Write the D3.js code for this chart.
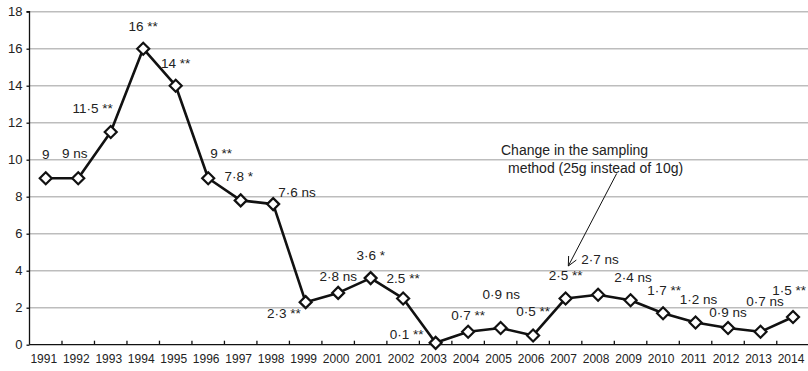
<!DOCTYPE html>
<html><head><meta charset="utf-8">
<script src="https://cdn.jsdelivr.net/npm/d3@7"></script>
<style>
html,body{margin:0;padding:0;background:#fff;overflow:hidden}
text{font-family:"Liberation Sans",Arial,Helvetica,sans-serif;fill:#222}
</style></head><body>
<svg id="c" width="808" height="371"></svg>
<script>
const years = ["1991","1992","1993","1994","1995","1996","1997","1998","1999","2000","2001","2002","2003","2004","2005","2006","2007","2008","2009","2010","2011","2012","2013","2014"];
const values = [9,9,11.5,16,14,9,7.8,7.6,2.3,2.8,3.6,2.5,0.1,0.7,0.9,0.5,2.5,2.7,2.4,1.7,1.2,0.9,0.7,1.5];
const labels = ["9","9 ns","11·5 **","16 **","14 **","9 **","7·8 *","7·6 ns","2·3 **","2·8 ns","3·6 *","2.5 **","0·1 **","0·7 **","0·9 ns","0·5 **","2·5 **","2·7 ns","2·4 ns","1·7 **","1·2 ns","0·9 ns","0·7 ns","1·5 **"];
const yTicks = [0,2,4,6,8,10,12,14,16,18];
const annotationLines = ["Change in the sampling","method (25g instead of 10g)"];

// label placement (layout config): [dx, dy, anchor]
const labelPlace = [
 [0,-19,"middle"],[-3.5,-20,"middle"],[-18,-19,"middle"],[0,-18,"middle"],[0,-18,"middle"],
 [2,-20,"start"],[-2,-19,"middle"],[5,-7,"start"],[-5,16,"end"],[0,-12,"middle"],
 [0,-18,"middle"],[0,-15,"middle"],[-12,-3.5,"end"],[0,-12,"middle"],[0.7,-29,"middle"],
 [0,-19.5,"middle"],[0,-18,"middle"],[2,-31,"middle"],[2.5,-18.6,"middle"],[1,-18,"middle"],
 [3,-19,"middle"],[0,-11,"middle"],[4.5,-26,"middle"],[13,-22,"end"]
];

const svg = d3.select("#c");
const mLeft = 29.5, mBottom = 344.7, mTop = 11.7;
const x = d3.scaleBand().domain(years).range([mLeft, mLeft + 24*32.49]).padding(0);
const y = d3.scaleLinear().domain([0,18]).range([mBottom, mTop]);

// gridlines
svg.append("g").selectAll("line").data(yTicks.filter(d=>d>0)).join("line")
  .attr("x1", mLeft).attr("x2", 808)
  .attr("y1", d=>y(d)).attr("y2", d=>y(d))
  .attr("stroke","#bdbdbd").attr("stroke-width",1.5);

// y axis
const ya = svg.append("g").attr("transform",`translate(${mLeft},0)`)
  .call(d3.axisLeft(y).tickValues(yTicks).tickSize(3).tickPadding(4));
ya.select(".domain").attr("stroke","#111").attr("stroke-width",1.3).attr("d",`M-3,${y(18)}H0V${mBottom}`);
ya.selectAll(".tick line").attr("stroke","#111").attr("stroke-width",1.3);
ya.selectAll(".tick text").style("font-size","13px").attr("fill","#222");

// x axis
const xa = svg.append("g").attr("transform",`translate(0,${mBottom})`)
  .call(d3.axisBottom(x).tickSize(0).tickPadding(9));
xa.select(".domain").attr("stroke","#111").attr("stroke-width",1.3).attr("d",`M${mLeft},0H808`);
xa.selectAll(".tick text").style("font-size","12px").attr("fill","#222").attr("dx",-2).attr("dy","0.75em");
svg.append("g").selectAll("line").data(years.slice(1)).join("line")
  .attr("x1", d=>x(d)).attr("x2", d=>x(d))
  .attr("y1", mBottom).attr("y2", mBottom-4)
  .attr("stroke","#111").attr("stroke-width",1.3);

const cx = (d,i)=>x(years[i]) + x.bandwidth()/2;

// line
svg.append("path").datum(values)
  .attr("fill","none").attr("stroke","#111").attr("stroke-width",2.6).attr("stroke-linejoin","round")
  .attr("d", d3.line().x((d,i)=>cx(d,i)).y(d=>y(d)));

// markers
svg.append("g").selectAll("path").data(values).join("path")
  .attr("transform",(d,i)=>`translate(${cx(d,i)},${y(d)})`)
  .attr("d","M0,-6L6,0L0,6L-6,0Z")
  .attr("fill","#fff").attr("stroke","#111").attr("stroke-width",2.2);

// labels
svg.append("g").selectAll("text").data(labels).join("text")
  .attr("x",(d,i)=>cx(d,i)+labelPlace[i][0])
  .attr("y",(d,i)=>y(values[i])+labelPlace[i][1])
  .attr("text-anchor",(d,i)=>labelPlace[i][2])
  .style("font-size","13.5px")
  .text(d=>d);

// annotation
const ann = svg.append("text").style("font-size","14px");
ann.append("tspan").attr("x",501).attr("y",155).text(annotationLines[0]);
ann.append("tspan").attr("x",508).attr("y",172.7).text(annotationLines[1]);

const ax0 = 616.7, ay0 = 173.5, ax1 = 568.3, ay1 = 266;
svg.append("line").attr("x1",ax0).attr("y1",ay0).attr("x2",ax1).attr("y2",ay1)
  .attr("stroke","#111").attr("stroke-width",1);
const ang = Math.atan2(ay1-ay0, ax1-ax0);
const hl = 10, ha = 0.45;
svg.append("path")
  .attr("d",`M${ax1-hl*Math.cos(ang-ha)},${ay1-hl*Math.sin(ang-ha)}L${ax1},${ay1}L${ax1-hl*Math.cos(ang+ha)},${ay1-hl*Math.sin(ang+ha)}`)
  .attr("fill","none").attr("stroke","#111").attr("stroke-width",1);
</script>
</body></html>
